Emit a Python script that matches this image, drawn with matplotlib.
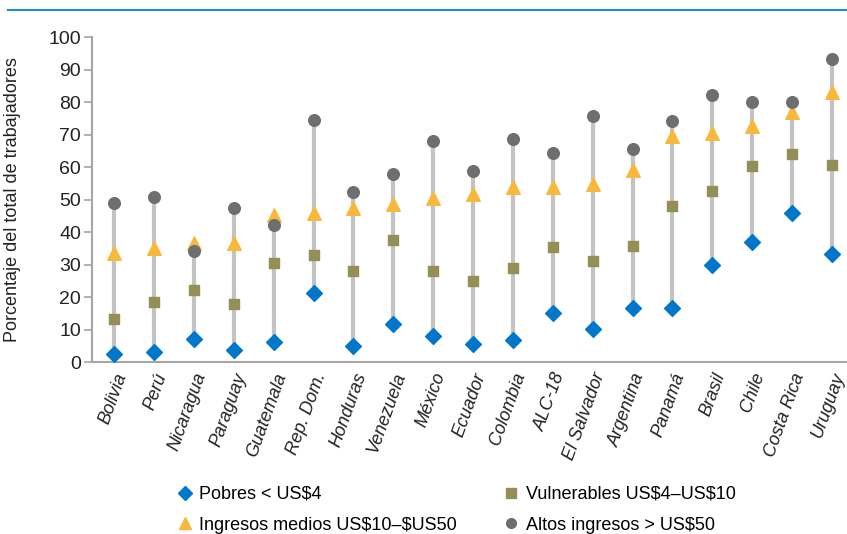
import matplotlib.pyplot as plt
from matplotlib.lines import Line2D
import numpy as np

plt.rcParams['font.family'] = ['Liberation Sans', 'DejaVu Sans']

paises = ['Bolivia', 'Perú', 'Nicaragua', 'Paraguay', 'Guatemala', 'Rep. Dom.',
          'Honduras', 'Venezuela', 'México', 'Ecuador', 'Colombia', 'ALC-18',
          'El Salvador', 'Argentina', 'Panamá', 'Brasil', 'Chile', 'Costa Rica',
          'Uruguay']
pobres = [2.6, 3.1, 7.0, 3.6, 6.2, 21.3, 4.8, 11.8, 7.9, 5.7, 6.7, 15.1,
          10.3, 16.6, 16.6, 29.9, 37.1, 45.9, 33.4]
vulnerables = [13.3, 18.5, 22.2, 17.9, 30.5, 33.0, 28.1, 37.6, 28.1, 25.0, 29.0, 35.5,
               31.1, 35.7, 48.1, 52.6, 60.4, 64.1, 60.6]
medios = [33.6, 35.0, 36.8, 36.8, 45.2, 46.0, 47.6, 48.6, 50.4, 51.9, 54.0, 54.0,
          54.7, 59.1, 69.6, 70.6, 72.7, 77.1, 83.2]
altos = [49.1, 50.8, 34.1, 47.4, 42.2, 74.7, 52.5, 57.8, 68.1, 58.9, 68.8, 64.3,
         75.7, 65.5, 74.3, 82.4, 80.2, 80.2, 93.4]

c_pob = '#0077c8'
c_vul = '#948f57'
c_med = '#f8b83c'
c_alt = '#6d6e70'
c_axis = '#a6a6a6'

fig = plt.figure(figsize=(8.47, 5.34), dpi=100)
ax = fig.add_axes([0.109, 0.322, 0.891, 0.608])

x = np.arange(len(paises))
tabla = np.array([pobres, vulnerables, medios, altos])
ax.vlines(x, tabla.min(axis=0), tabla.max(axis=0), color='#c3c3c3', lw=3, zorder=1)

ax.scatter(x, pobres, marker='D', s=65, color=c_pob, zorder=3)
ax.scatter(x, vulnerables, marker='s', s=55, color=c_vul, zorder=3)
ax.scatter(x, medios, marker='^', s=95, color=c_med, zorder=3)
ax.scatter(x, altos, marker='o', s=70, color=c_alt, zorder=3)

ax.set_xlim(-0.55, 18.38)
ax.set_ylim(0, 100)
ax.set_yticks(range(0, 101, 10))
ax.tick_params(axis='y', colors=c_axis, length=6, width=1.2, labelsize=14,
               labelcolor='#222222', pad=2)
ax.set_xticks(x)
ax.set_xticklabels(paises, rotation=70, ha='right', va='top', rotation_mode='anchor',
                   fontsize=13, style='italic', color='#222222')
ax.tick_params(axis='x', length=0, pad=6)
for s in ['top', 'right']:
    ax.spines[s].set_visible(False)
ax.spines['left'].set_color(c_axis)
ax.spines['bottom'].set_color(c_axis)
ax.spines['left'].set_linewidth(1.5)
ax.spines['bottom'].set_linewidth(1.5)
ax.set_ylabel('Porcentaje del total de trabajadores', fontsize=13, color='#222222')
ax.yaxis.set_label_coords(-0.094, 0.5)

# linea azul superior
fig.add_artist(Line2D([0.01, 1.0], [0.981, 0.981], color='#1f8dd6', lw=1.5))

handles = [
    Line2D([], [], ls='none', marker='D', color=c_pob, markersize=7),
    Line2D([], [], ls='none', marker='^', color=c_med, markersize=9),
    Line2D([], [], ls='none', marker='s', color=c_vul, markersize=7),
    Line2D([], [], ls='none', marker='o', color=c_alt, markersize=7),
]
labels = [r'Pobres < US\$4', r'Ingresos medios US\$10–\$US50',
          r'Vulnerables US\$4–US\$10', r'Altos ingresos > US\$50']
fig.legend(handles, labels, ncol=2, loc='lower left', bbox_to_anchor=(0.199, -0.016),
           frameon=False, fontsize=13, handlelength=0.8, handletextpad=0.4,
           columnspacing=2.6, labelspacing=0.75, borderpad=0)

fig.savefig('out.png', dpi=100)
